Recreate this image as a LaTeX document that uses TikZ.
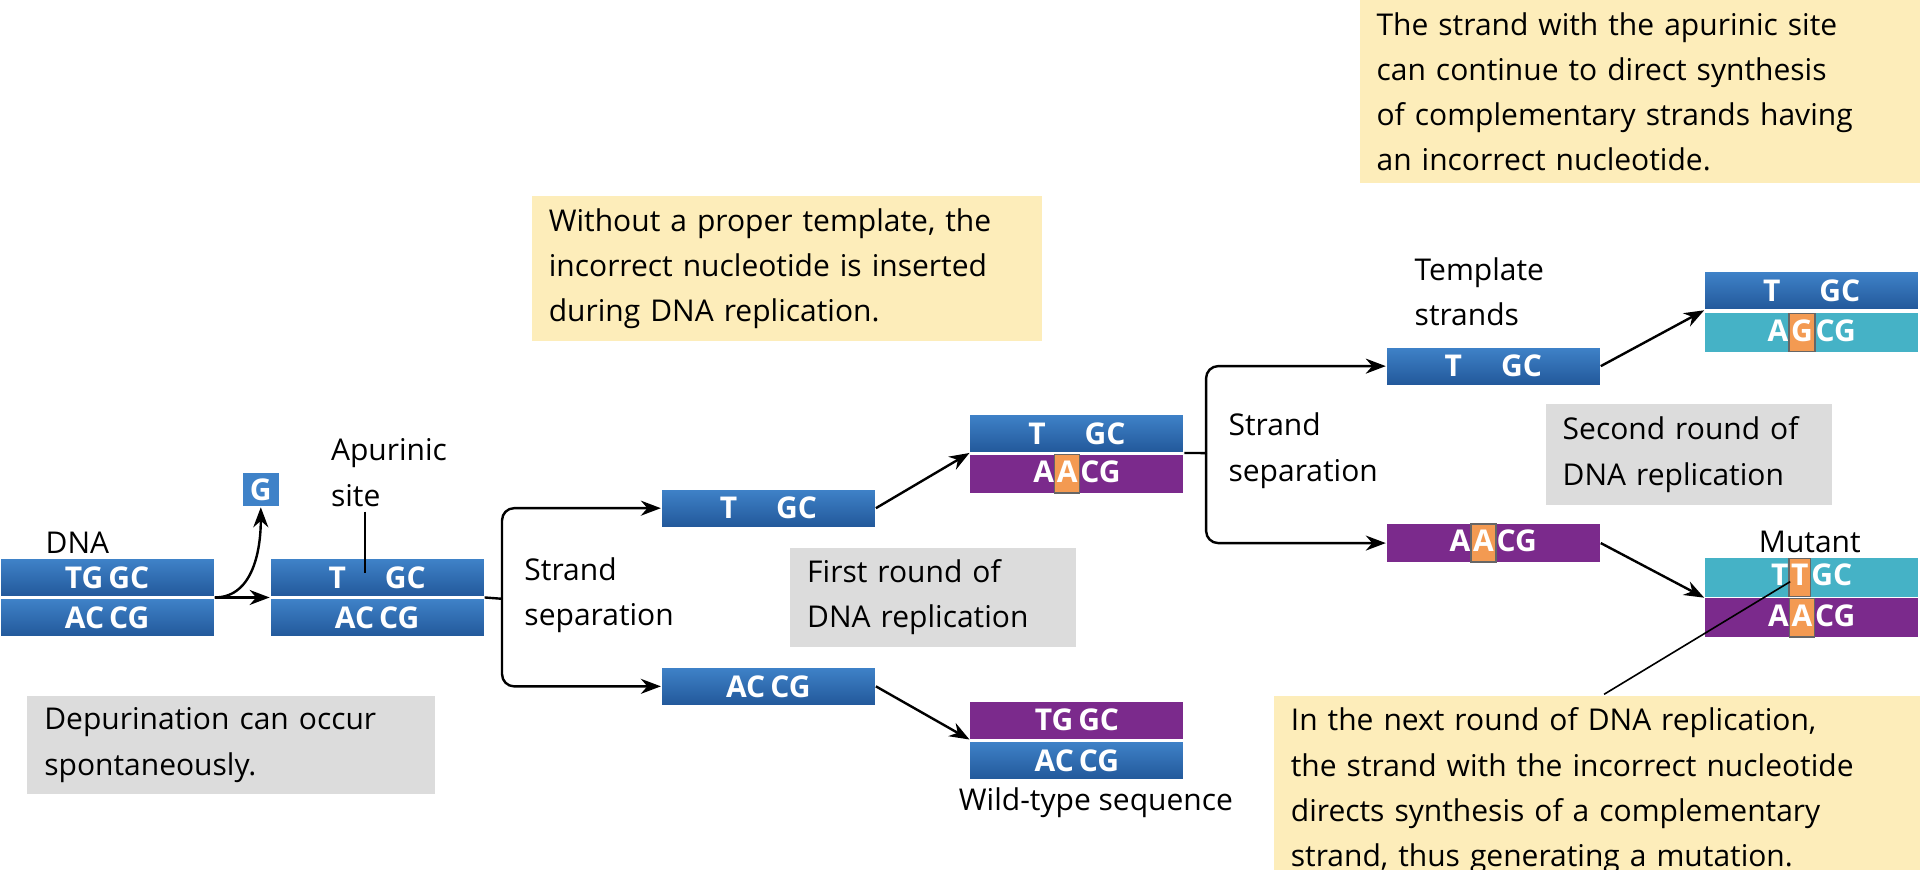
\documentclass[tikz,border=0pt]{standalone}
\usepackage{fontspec}
\setmainfont{Open Sans}
\usetikzlibrary{arrows.meta}
\definecolor{blueL}{HTML}{3F82C8}
\definecolor{blueD}{HTML}{22589A}
\definecolor{purp}{HTML}{7B2A8C}
\definecolor{teal}{HTML}{45B2C6}
\definecolor{orng}{HTML}{F39A52}
\definecolor{yel}{HTML}{FDEDBA}
\definecolor{gry}{HTML}{DCDCDC}
\newcommand\hl[1]{{\setlength\fboxsep{0.7pt}\setlength\fboxrule{0.7pt}\fcolorbox{black!60}{orng}{\rule[-4.2pt]{0pt}{17pt}#1}}}
\tikzset{
  strand/.style={draw=white, line width=0.5pt, minimum width=107pt, minimum height=19pt,
    inner sep=0pt, text=white, font=\bfseries\fontsize{15}{17}\selectfont},
  blu/.style={strand, top color=blueL, bottom color=blueD},
  pur/.style={strand, fill=purp},
  tea/.style={strand, fill=teal},
  note/.style={anchor=north west, inner xsep=8.5pt, inner ysep=6pt, align=left,
    font=\fontsize{15}{22.6}\selectfont},
  lbl/.style={align=left, font=\fontsize{15}{22.6}\selectfont, inner sep=0pt},
  arr/.style={-{Stealth[length=10pt,width=7.5pt]}, line width=1.2pt, rounded corners=6pt}
}
\begin{document}
\begin{tikzpicture}[x=0.6122pt,y=-0.6122pt]
\useasboundingbox (0,0) rectangle (1568,710);
% notes
\node[note, fill=gry, minimum width=203.9pt, minimum height=49pt, text width=187pt] (n1) at (22,568) {Depurination can occur\\spontaneously.};
\node[note, fill=yel, minimum width=254.7pt, minimum height=68.6pt, text width=238pt] (n2) at (434,160) {Without a proper template, the\\incorrect nucleotide is inserted\\during DNA replication.};
\node[note, fill=gry, minimum width=142.7pt, minimum height=49.6pt, text width=126pt] (n3) at (645,447) {First round of\\DNA replication};
\node[note, fill=yel, minimum width=279.8pt, minimum height=87.6pt, text width=263pt] (n4) at (1110,0) {The strand with the apurinic site\\can continue to direct synthesis\\of complementary strands having\\an incorrect nucleotide.};
\node[note, fill=gry, minimum width=142.7pt, minimum height=50.2pt, text width=126pt] (n5) at (1262,330) {Second round of\\DNA replication};
\node[note, fill=yel, minimum width=322.7pt, minimum height=86.9pt, text width=306pt] (n6) at (1040,568) {In the next round of DNA replication,\\the strand with the incorrect nucleotide\\directs synthesis of a complementary\\strand, thus generating a mutation.};
% strands
\node[blu] (d1) at (87.5,472) {TG\,GC};
\node[blu] (d2) at (87.5,504.5) {AC\,CG};
\node[lbl, anchor=south west] (ldna) at (37,452) {DNA};
\node[strand, fill=blueL, minimum width=18.4pt, minimum height=17pt] (g) at (213,400) {G};
\node[blu] (a1) at (308,472) {T\hspace{1.3em}GC};
\node[blu] (a2) at (308,504.5) {AC\,CG};
\node[lbl, anchor=north west] (lap) at (270,358) {Apurinic\\site};
\coordinate (apE) at (298,468);
\draw[line width=1pt] (lap.south -| apE) ++(0,4) -- (apE);
\coordinate (sp1) at (410,489);
\node[lbl, anchor=north west] (lsep1) at (428,455) {Strand\\separation};
\node[blu] (s1) at (627.5,415) {T\hspace{1.3em}GC};
\node[blu] (s2) at (627.5,560.5) {AC\,CG};
\node[blu] (r1) at (879.5,354) {T\hspace{1.3em}GC};
\node[pur] (r2) at (879.5,387) {A\hl{A}CG};
\node[pur] (w1) at (879.5,588) {TG\,GC};
\node[blu] (w2) at (879.5,621) {AC\,CG};
\node[lbl, anchor=north] (lwild) at (895,643) {Wild-type sequence};
\coordinate (sp2) at (985,370);
\node[lbl, anchor=north west] (lsep2) at (1003,337) {Strand\\separation};
\node[lbl, anchor=north west] (ltmp) at (1155,210) {Template\\strands};
\node[blu] (t1) at (1219.5,299) {T\hspace{1.3em}GC};
\node[pur] (t2) at (1219.5,443.5) {A\hl{A}CG};
\node[blu] (u1) at (1479.5,237.5) {T\hspace{1.3em}GC};
\node[tea] (u2) at (1479.5,271.5) {A\hl{G}CG};
\node[tea] (m1) at (1479.5,471.5) {T\hl{T}GC};
\node[pur] (m2) at (1479.5,504.5) {A\hl{A}CG};
\node[lbl, anchor=south] (lmut) at (1478,452) {Mutant};
% connectors
\draw[arr] (d1.south east) to[out=0,in=-90] (g.south);
\draw[arr] (d1.south east) -- (a1.south west);
\draw[line width=1.2pt] (a1.south east) -- (sp1);
\draw[arr] (sp1) |- (s1.west);
\draw[arr] (sp1) |- (s2.west);
\draw[arr] (s1.east) -- (r1.south west);
\draw[arr] (s2.east) -- (w1.south west);
\draw[line width=1.2pt] (r1.south east) -- (sp2);
\draw[arr] (sp2) |- (t1.west);
\draw[arr] (sp2) |- (t2.west);
\draw[arr] (t1.east) -- (u1.south west);
\draw[arr] (t2.east) -- (m1.south west);
\coordinate (ptr) at (1310,567);
\coordinate (ptrE) at (1462,475);
\draw[line width=0.8pt] (ptr) -- (ptrE);
\end{tikzpicture}
\end{document}
